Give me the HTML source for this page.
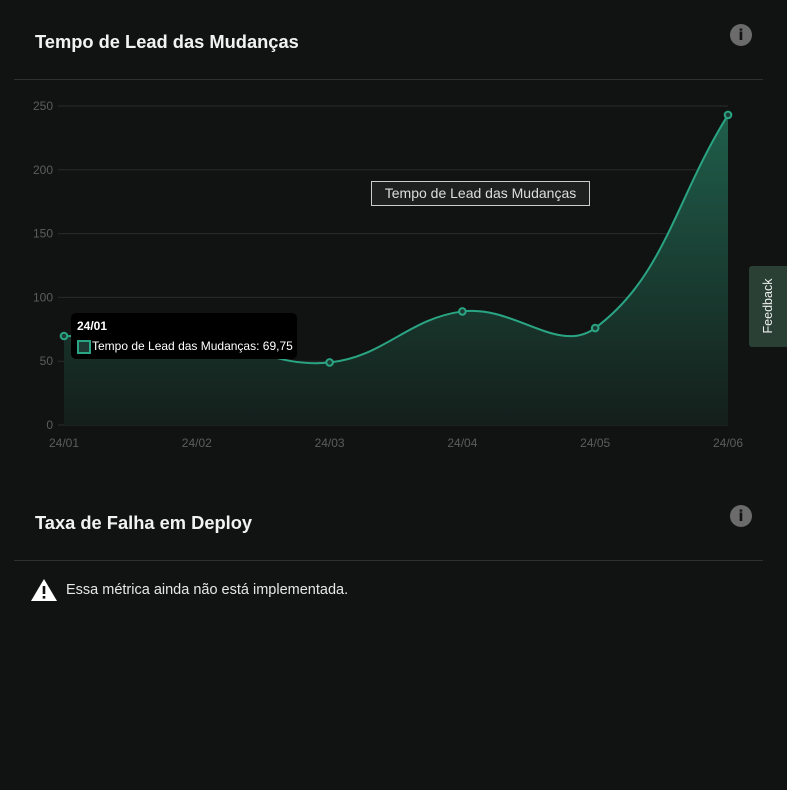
<!DOCTYPE html>
<html><head><meta charset="utf-8"><style>
body{margin:0;width:787px;height:790px;background:#111313;font-family:"Liberation Sans",sans-serif;overflow:hidden;position:relative}
.title{position:absolute;left:35px;font-size:18.3px;font-weight:bold;color:#f2f2f2}
.info{position:absolute;width:22px;height:22px;border-radius:50%;background:#6b6b6b;color:#111;font:bold 15px "DejaVu Sans",sans-serif;text-align:center;line-height:22px}
.hr{position:absolute;left:14px;width:749px;height:1px;background:#2e2f2f}
</style></head><body>
<div class="title" style="top:31px">Tempo de Lead das Mudanças</div>
<div class="info" style="left:730px;top:24px">i</div>
<div class="hr" style="top:79px"></div>
<svg id="chart" width="787" height="470" style="position:absolute;left:0;top:0"></svg>
<div style="position:absolute;left:371px;top:181px;width:217px;height:23px;border:1px solid #ccc;background:#1e1f1f;color:#ddd;font-size:14px;line-height:23px;text-align:center">Tempo de Lead das Mudanças</div>
<div style="position:absolute;left:71px;top:313px;width:226px;height:46px;background:#000;border-radius:5px;color:#fff;font-size:12px">
<div style="position:absolute;left:6px;top:6px;font-weight:bold">24/01</div>
<div style="position:absolute;left:6px;top:27px;width:10px;height:10px;border:2px solid #2aa583;background:#1e3a32"></div>
<div style="position:absolute;left:21px;top:26px">Tempo de Lead das Mudanças: 69,75</div></div>
<div style="position:absolute;left:749px;top:266px;width:38px;height:81px;background:#2a4034;border-radius:3px 0 0 3px"><div style="position:absolute;left:19px;top:40px;transform:translate(-50%,-50%) rotate(-90deg);color:#eee;font-size:12.5px;white-space:nowrap">Feedback</div></div>
<div class="title" style="top:512px">Taxa de Falha em Deploy</div>
<div class="info" style="left:730px;top:505px">i</div>
<div class="hr" style="top:560px"></div>
<svg width="28" height="24" style="position:absolute;left:30px;top:578px"><path d="M14 1 L27 23 L1 23 Z" fill="#fff"/><rect x="12.7" y="8" width="2.6" height="8" fill="#111"/><rect x="12.7" y="18" width="2.6" height="2.6" fill="#111"/></svg>
<div style="position:absolute;left:66px;top:582px;color:#e6e6e6;font-size:14.5px">Essa métrica ainda não está implementada.</div>
<script>
const labels=["24/01","24/02","24/03","24/04","24/05","24/06"];
const values=[69.75,68,49,89,76,243];
const yTicks=[0,50,100,150,200,250];
const svg=document.getElementById('chart');const NS="http://www.w3.org/2000/svg";
const x0=64,x1=728,yb=425,yt=106,ymax=250;
const X=i=>x0+i*(x1-x0)/(labels.length-1);
const Y=v=>yb-v*(yb-yt)/ymax;
function mk(t,a){const e=document.createElementNS(NS,t);for(const k in a)e.setAttribute(k,a[k]);svg.appendChild(e);return e;}
let defs=mk('defs',{});defs.innerHTML='<linearGradient id="g" x1="0" y1="0" x2="0" y2="1"><stop offset="0" stop-color="#1f5e4a"/><stop offset="1" stop-color="#141e1b"/></linearGradient>';
yTicks.forEach(t=>{const l=mk('line',{x1:58,x2:x1,y1:Y(t),y2:Y(t),stroke:'#2a2b2b'});


const tx=mk('text',{x:53,y:Y(t)+4,'text-anchor':'end',fill:'#5c5c5c','font-size':12,'font-family':'Liberation Sans'});tx.textContent=t;

});
labels.forEach((s,i)=>{const tx=mk('text',{x:X(i),y:447,'text-anchor':'middle',fill:'#5c5c5c','font-size':12,'font-family':'Liberation Sans'});tx.textContent=s;

});
const P=values.map((v,i)=>[X(i),Y(v)]);const T=0.4;
let d='M'+P[0];
for(let i=0;i<P.length-1;i++){const p0=P[Math.max(i-1,0)],p1=P[i],p2=P[i+1],p3=P[Math.min(i+2,P.length-1)];
function cp(a,b,c){const d01=Math.hypot(b[0]-a[0],b[1]-a[1]),d12=Math.hypot(c[0]-b[0],c[1]-b[1]);const fa=T*d01/(d01+d12||1),fb=T*d12/(d01+d12||1);return[[b[0]-fa*(c[0]-a[0]),b[1]-fa*(c[1]-a[1])],[b[0]+fb*(c[0]-a[0]),b[1]+fb*(c[1]-a[1])]];}
const c1=cp(p0,p1,p2)[1],c2=cp(p1,p2,p3)[0];d+=' C'+c1+' '+c2+' '+p2;}
const area=mk('path',{d:d+' L'+x1+','+yb+' L'+x0+','+yb+' Z',fill:'url(#g)'});


const line=mk('path',{d:d,fill:'none',stroke:'#2aa583','stroke-width':2});


P.forEach(p=>{const c=mk('circle',{cx:p[0],cy:p[1],r:3.3,fill:'#1e3a32',stroke:'#2aa583','stroke-width':2});

});
</script>
</body></html>
